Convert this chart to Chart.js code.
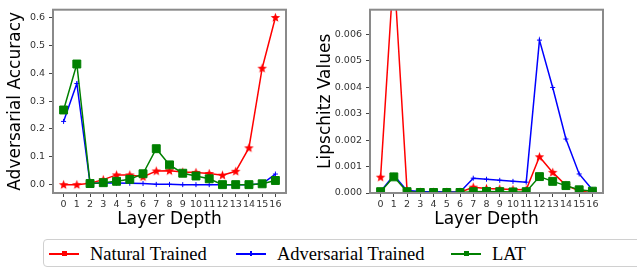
<!DOCTYPE html>
<html><head><meta charset="utf-8">
<script src="https://cdn.jsdelivr.net/npm/chart.js@4/dist/chart.umd.min.js"></script>
<style>
html,body{margin:0;padding:0;background:#fff;width:637px;height:269px;overflow:hidden;position:relative}
#c1{position:absolute;left:0;top:0}
#c2{position:absolute;left:310px;top:0}
#legend{position:absolute;left:43px;top:239px;width:620px;height:28px;border:1px solid #d0d0d0;border-radius:4px;box-sizing:border-box;font-family:"Liberation Serif",serif;font-size:18.5px;color:#000}
.item{position:absolute;top:0;height:28px}
.ln{position:absolute;top:13px;width:30px;height:2px}
.mk{position:absolute;top:11px;left:13px;width:5px;height:5px}
.tx{position:absolute;top:2px;white-space:nowrap;line-height:24px}
</style></head><body>
<canvas id="c1" width="300" height="230"></canvas>
<canvas id="c2" width="327" height="230"></canvas>
<div id="legend"></div>
<script>
// ---- data ----
const layers = [0,1,2,3,4,5,6,7,8,9,10,11,12,13,14,15,16];
const seriesNames = ["Natural Trained", "Adversarial Trained", "LAT"];
const accNatural = [0,0,0.005,0.018,0.035,0.035,0.028,0.049,0.05,0.045,0.044,0.04,0.034,0.048,0.132,0.418,0.6];
const accAdv     = [0.227,0.363,0.004,0.006,0.006,0.005,0.004,0.001,0.001,0,0,0,0,0,0,0.003,0.038];
const accLAT     = [0.268,0.433,0.004,0.007,0.012,0.019,0.039,0.129,0.071,0.041,0.031,0.021,0,0,0,0.003,0.015];
const lipNatural = [0.0006,0.0085,0.00008,0.00003,0.00003,0.00003,0.00003,0.00022,0.00017,0.00015,0.00013,0.00012,0.00137,0.00078,0.00029,0.00008,0.00001];
const lipAdv     = [0.00006,0.00067,0.00009,0.00006,0.00005,0.00004,0.00004,0.00056,0.00052,0.00048,0.00044,0.00041,0.00578,0.00399,0.00204,0.00072,0.00012];
const lipLAT     = [0.00005,0.00061,0.00005,0.00002,0.00002,0.00002,0.00002,0.00005,0.00006,0.00005,0.00004,0.00005,0.00062,0.00044,0.00028,0.00012,0.00007];
const accTicks = [0,0.1,0.2,0.3,0.4,0.5,0.6];
const accTickLabels = ["0.0","0.1","0.2","0.3","0.4","0.5","0.6"];
const lipTicks = [0,0.001,0.002,0.003,0.004,0.005,0.006];
const lipTickLabels = ["0.000","0.001","0.002","0.003","0.004","0.005","0.006"];
const xTickLabels = layers.map(String);

// ---- styling ----
const colors = ["#ff0000", "#0000ff", "#008000"];
function starImg(color){
  const c = document.createElement('canvas'); c.width = 11; c.height = 11;
  const g = c.getContext('2d'); g.fillStyle = color; g.beginPath();
  for (let i=0;i<10;i++){ const r = i%2===0 ? 5 : 2.1; const a = -Math.PI/2 + i*Math.PI/5;
    const px = 5.5 + r*Math.cos(a), py = 5.8 + r*Math.sin(a); i===0 ? g.moveTo(px,py) : g.lineTo(px,py); }
  g.closePath(); g.fill(); return c;
}
const star = starImg(colors[0]);

const framePlugin = { id:'frame', afterDatasetsDraw(chart){
  const a = chart.chartArea, g = chart.ctx; g.save(); g.strokeStyle = '#8a8a8a'; g.lineWidth = 2;
  g.strokeRect(a.left, a.top, a.right-a.left, a.bottom-a.top); g.restore(); } };

function makeDatasets(vals){
  return [
    {label: seriesNames[0], data: layers.map((x,i)=>({x, y: vals[0][i]})), borderColor: colors[0], backgroundColor: colors[0],
     borderWidth: 1.5, pointStyle: star, pointRadius: 5, order: 3},
    {label: seriesNames[1], data: layers.map((x,i)=>({x, y: vals[1][i]})), borderColor: colors[1], backgroundColor: colors[1],
     borderWidth: 1.5, pointStyle: 'cross', pointRadius: 2.5, pointBorderWidth: 1, order: 2},
    {label: seriesNames[2], data: layers.map((x,i)=>({x, y: vals[2][i]})), borderColor: colors[2], backgroundColor: colors[2],
     borderWidth: 1.5, pointStyle: 'rect', pointRadius: 5.6, pointBorderWidth: 1, order: 1}
  ];
}

function makeChart(id, vals, yMin, yMax, yTicks, yLabels, yTitle, yWidth, padRight){
  return new Chart(document.getElementById(id), {
    type: 'line',
    data: { datasets: makeDatasets(vals) },
    plugins: [framePlugin],
    options: {
      responsive: false, animation: false, devicePixelRatio: 1,
      layout: { padding: {top: 3, right: padRight, left: 0, bottom: 0}, autoPadding: false },
      plugins: { legend: {display: false}, tooltip: {enabled: false} },
      elements: { line: { tension: 0 } },
      scales: {
        x: { type: 'linear', min: -0.8, max: 16.8,
          afterBuildTicks(s){ s.ticks = layers.map(v=>({value:v})); },
          afterFit(s){ s.height = 37; },
          ticks: { callback: (v)=> xTickLabels[layers.indexOf(v)], autoSkip: false, maxRotation: 0, padding: 2,
                   color: '#333', font: {family: 'DejaVu Sans', size: 9.5} },
          grid: { display: true, drawOnChartArea: false, drawTicks: true, tickLength: 4, color: '#444' },
          border: { display: false },
          title: { display: true, text: 'Layer Depth', color: '#000', padding: {top:0, bottom:0},
                   font: {family: 'DejaVu Sans', size: 17} } },
        y: { type: 'linear', min: yMin, max: yMax,
          afterBuildTicks(s){ s.ticks = yTicks.map(v=>({value:v})); },
          afterFit(s){ s.width = yWidth; },
          ticks: { callback: (v)=> yLabels[yTicks.findIndex(t=>Math.abs(t-v)<1e-9)], autoSkip: false, padding: 4,
                   color: '#333', font: {family: 'DejaVu Sans', size: 9.5} },
          grid: { display: true, drawOnChartArea: false, drawTicks: true, tickLength: 4, color: '#444' },
          border: { display: false },
          title: { display: true, text: yTitle, color: '#000', padding: {top:5, bottom:5},
                   font: {family: 'DejaVu Sans', size: 17} } }
      }
    }
  });
}

makeChart('c1', [accNatural, accAdv, accLAT], -0.03, 0.628, accTicks, accTickLabels, 'Adversarial Accuracy', 53, 14);
makeChart('c2', [lipNatural, lipAdv, lipLAT], 0, 0.00693, lipTicks, lipTickLabels, 'Lipschitz Values', 60, 34);

// ---- legend ----
const legendX = [5, 192, 407];
const lg = document.getElementById('legend');
seriesNames.forEach((name, i) => {
  const it = document.createElement('div'); it.className = 'item'; it.style.left = legendX[i] + 'px';
  const ln = document.createElement('div'); ln.className = 'ln'; ln.style.background = colors[i];
  const mk = document.createElement('div'); mk.className = 'mk'; mk.style.background = colors[i];
  if (i === 1) { mk.style.width = '2px'; mk.style.left = '14px'; }
  const tx = document.createElement('div'); tx.className = 'tx'; tx.style.left = '41px'; tx.textContent = name;
  it.appendChild(ln); it.appendChild(mk); it.appendChild(tx); lg.appendChild(it);
});
</script>
</body></html>
